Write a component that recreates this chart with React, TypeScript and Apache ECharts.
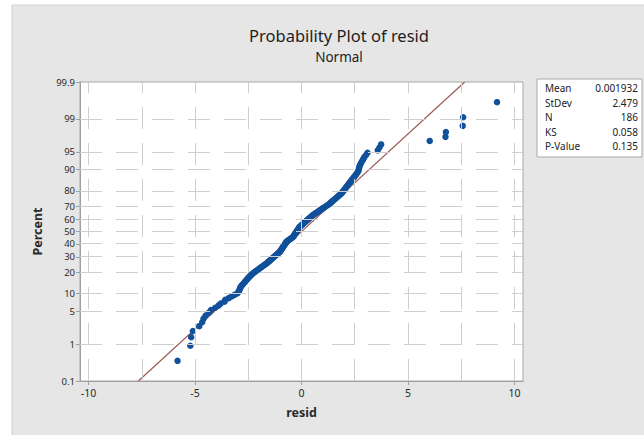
import React, { useEffect, useRef } from "react";
import * as echarts from "echarts";

// Sorted residuals (N = 186)
const resid: number[] = [
  -5.82, -5.22, -5.18, -5.10, -4.80, -4.66, -4.60, -4.50, -4.35, -4.25,
  -4.05, -3.90, -3.80, -3.62, -3.58, -3.42, -3.28, -3.15, -3.02, -2.96,
  -2.93, -2.90, -2.88, -2.85, -2.80, -2.75, -2.71, -2.66, -2.62, -2.57,
  -2.53, -2.49, -2.44, -2.40, -2.35, -2.30, -2.25, -2.19, -2.13, -2.07,
  -2.01, -1.96, -1.90, -1.85, -1.79, -1.74, -1.68, -1.63, -1.59, -1.55,
  -1.50, -1.46, -1.42, -1.38, -1.34, -1.30, -1.26, -1.22, -1.18, -1.14,
  -1.10, -1.06, -1.02, -1.00, -0.98, -0.96, -0.93, -0.91, -0.89, -0.87,
  -0.85, -0.83, -0.81, -0.78, -0.76, -0.74, -0.72, -0.70, -0.66, -0.62,
  -0.58, -0.53, -0.49, -0.44, -0.40, -0.38, -0.36, -0.34, -0.32, -0.30,
  -0.28, -0.26, -0.24, -0.22, -0.20, -0.18, -0.16, -0.14, -0.12, -0.10,
  -0.08, -0.04, 0.00, 0.03, 0.06, 0.10, 0.13, 0.17, 0.20, 0.24,
  0.27, 0.31, 0.35, 0.38, 0.42, 0.45, 0.49, 0.53, 0.57, 0.62,
  0.67, 0.72, 0.77, 0.81, 0.86, 0.91, 0.96, 1.01, 1.06, 1.11,
  1.16, 1.22, 1.27, 1.32, 1.36, 1.40, 1.44, 1.48, 1.53, 1.57,
  1.62, 1.66, 1.71, 1.75, 1.80, 1.85, 1.89, 1.92, 1.96, 1.99,
  2.02, 2.06, 2.09, 2.13, 2.17, 2.20, 2.24, 2.28, 2.32, 2.36,
  2.40, 2.45, 2.49, 2.54, 2.58, 2.63, 2.67, 2.69, 2.70, 2.72,
  2.75, 2.79, 2.84, 2.89, 2.94, 3.02, 3.10, 3.58, 3.66, 3.74,
  6.02, 6.76, 6.78, 7.57, 7.59, 9.18,
];

const fitMean = 0.001932;
const fitStDev = 2.479;

const percentTicks: number[] = [0.1, 1, 5, 10, 20, 30, 40, 50, 60, 70, 80, 90, 95, 99, 99.9];
const xTickValues: number[] = [-10, -5, 0, 5, 10];
const xGridValues: number[] = [-10, -7.5, -5, -2.5, 0, 2.5, 5, 7.5, 10];

const statLabels: string[] = ["Mean", "StDev", "N", "KS", "P-Value"];
const statValues: string[] = ["0.001932", "2.479", "186", "0.058", "0.135"];

// inverse standard normal CDF (Acklam)
function probit(p: number): number {
  const a = [-3.969683028665376e1, 2.209460984245205e2, -2.759285104469687e2, 1.38357751867269e2, -3.066479806614716e1, 2.506628277459239];
  const b = [-5.447609879822406e1, 1.615858368580409e2, -1.556989798598866e2, 6.680131188771972e1, -1.328068155288572e1];
  const c = [-7.784894002430293e-3, -3.223964580411365e-1, -2.400758277161838, -2.549671092012300, 4.374664141464968, 2.938163982698783];
  const d = [7.784695709041462e-3, 3.224671290700398e-1, 2.445134137142996, 3.754408661907416];
  const pl = 0.02425;
  const ph = 1 - pl;
  if (p < pl) {
    const q = Math.sqrt(-2 * Math.log(p));
    return (((((c[0] * q + c[1]) * q + c[2]) * q + c[3]) * q + c[4]) * q + c[5]) / ((((d[0] * q + d[1]) * q + d[2]) * q + d[3]) * q + 1);
  }
  if (p <= ph) {
    const q = p - 0.5;
    const r = q * q;
    return ((((((a[0] * r + a[1]) * r + a[2]) * r + a[3]) * r + a[4]) * r + a[5]) * q) / (((((b[0] * r + b[1]) * r + b[2]) * r + b[3]) * r + b[4]) * r + 1);
  }
  const q = Math.sqrt(-2 * Math.log(1 - p));
  return -(((((c[0] * q + c[1]) * q + c[2]) * q + c[3]) * q + c[4]) * q + c[5]) / ((((d[0] * q + d[1]) * q + d[2]) * q + d[3]) * q + 1);
}

const FONT = '"Noto Sans", "Open Sans", sans-serif';

export default function App() {
  const ref = useRef<HTMLDivElement>(null);

  useEffect(() => {
    if (!ref.current) return;
    const chart = echarts.init(ref.current, null, { renderer: "svg" });

    const n = resid.length;
    const points = resid.map((v, i) => [v, probit((i + 1 - 0.3) / (n + 0.4))]);
    const yTickZ = percentTicks.map((p) => probit(p / 100));
    const zMin = yTickZ[0];
    const zMax = yTickZ[yTickZ.length - 1];
    const fitLine = [
      [fitMean + fitStDev * zMin, zMin],
      [fitMean + fitStDev * zMax, zMax],
    ];

    const gridLineStyle = { color: "#cfcfcf", width: 1, type: [22, 14] as any };

    const option: any = {
      animation: false,
      backgroundColor: "#ffffff",
      title: {
        text: "Probability Plot of resid",
        subtext: "Normal",
        left: 334,
        top: 21,
        textAlign: "center",
        itemGap: 5,
        textStyle: { fontFamily: FONT, fontSize: 16.5, fontWeight: "normal", color: "#1e1e1e", lineHeight: 18 },
        subtextStyle: { fontFamily: FONT, fontSize: 13.5, color: "#1e1e1e", lineHeight: 15 },
      },
      grid: {
        left: 80,
        top: 82,
        right: 121,
        bottom: 54,
        show: true,
        backgroundColor: "#ffffff",
        borderColor: "#a8a8a8",
        borderWidth: 1,
      },
      xAxis: {
        type: "value",
        min: -10.4,
        max: 10.4,
        name: "resid",
        nameLocation: "middle",
        nameGap: 25,
        nameTextStyle: { fontFamily: FONT, fontSize: 12.5, fontWeight: "bold", color: "#2a2a2a" },
        axisLine: { show: true, onZero: false, lineStyle: { color: "#a0a0a0", width: 1 } },
        axisTick: { show: true, length: 4, customValues: xTickValues, lineStyle: { color: "#a0a0a0" } },
        axisLabel: {
          customValues: xTickValues,
          fontFamily: FONT,
          fontSize: 10.5,
          color: "#2a2a2a",
          margin: 6,
        },
        splitLine: { show: false },
      },
      yAxis: {
        type: "value",
        min: zMin,
        max: zMax,
        name: "Percent",
        nameLocation: "middle",
        nameGap: 36,
        nameTextStyle: { fontFamily: FONT, fontSize: 12.5, fontWeight: "bold", color: "#2a2a2a" },
        axisLine: { show: true, onZero: false, lineStyle: { color: "#a0a0a0", width: 1 } },
        axisTick: { show: true, length: 4, customValues: yTickZ, lineStyle: { color: "#a0a0a0" } },
        axisLabel: {
          customValues: yTickZ,
          showMaxLabel: true,
          showMinLabel: true,
          hideOverlap: false,
          fontFamily: FONT,
          fontSize: 9.5,
          lineHeight: 10,
          color: "#2a2a2a",
          margin: 5,
          formatter: (v: number) => {
            let best = 0;
            let bd = Infinity;
            yTickZ.forEach((z, i) => {
              const dd = Math.abs(z - v);
              if (dd < bd) {
                bd = dd;
                best = i;
              }
            });
            return String(percentTicks[best]);
          },
        },
        splitLine: { show: false },
      },
      series: [
        {
          type: "line",
          name: "fit",
          data: fitLine,
          showSymbol: false,
          symbol: "none",
          z: 2,
          lineStyle: { color: "#9c5353", width: 1.1 },
          silent: true,
          markLine: {
            silent: true,
            symbol: ["none", "none"],
            label: { show: false },
            lineStyle: gridLineStyle,
            emphasis: { disabled: true },
            data: [
              ...xGridValues.map((v) => ({ xAxis: v })),
              ...yTickZ.slice(1, -1).map((z) => ({ yAxis: z })),
            ],
          },
        },
        {
          type: "scatter",
          name: "resid",
          data: points,
          symbol: "circle",
          symbolSize: 6.5,
          z: 3,
          itemStyle: { color: "#11509a", opacity: 1 },
          silent: true,
        },
      ],
      graphic: [
        {
          type: "rect",
          z: -10,
          silent: true,
          shape: { x: 12, y: 5, width: 640, height: 440 },
          style: { fill: "#e6e6e6", stroke: "#d0d0d0", lineWidth: 1 },
        },
        {
          type: "rect",
          z: 10,
          silent: true,
          shape: { x: 537, y: 79, width: 105, height: 78 },
          style: { fill: "#ffffff", stroke: "#a8a8a8", lineWidth: 1 },
        },
        ...statLabels.map((t, i) => ({
          type: "text",
          z: 11,
          silent: true,
          x: 545,
          y: 88 + i * 14.5,
          style: { text: t, font: `10px ${FONT}`, fill: "#222", verticalAlign: "middle", textAlign: "left" },
        })),
        ...statValues.map((t, i) => ({
          type: "text",
          z: 11,
          silent: true,
          x: 638,
          y: 88 + i * 14.5,
          style: { text: t, font: `10px ${FONT}`, fill: "#222", verticalAlign: "middle", textAlign: "right" },
        })),
      ],
    };

    chart.setOption(option);
    return () => chart.dispose();
  }, []);

  return (
    <div
      ref={ref}
      style={{ position: "fixed", left: 0, top: 0, width: 644, height: 435 }}
    />
  );
}
